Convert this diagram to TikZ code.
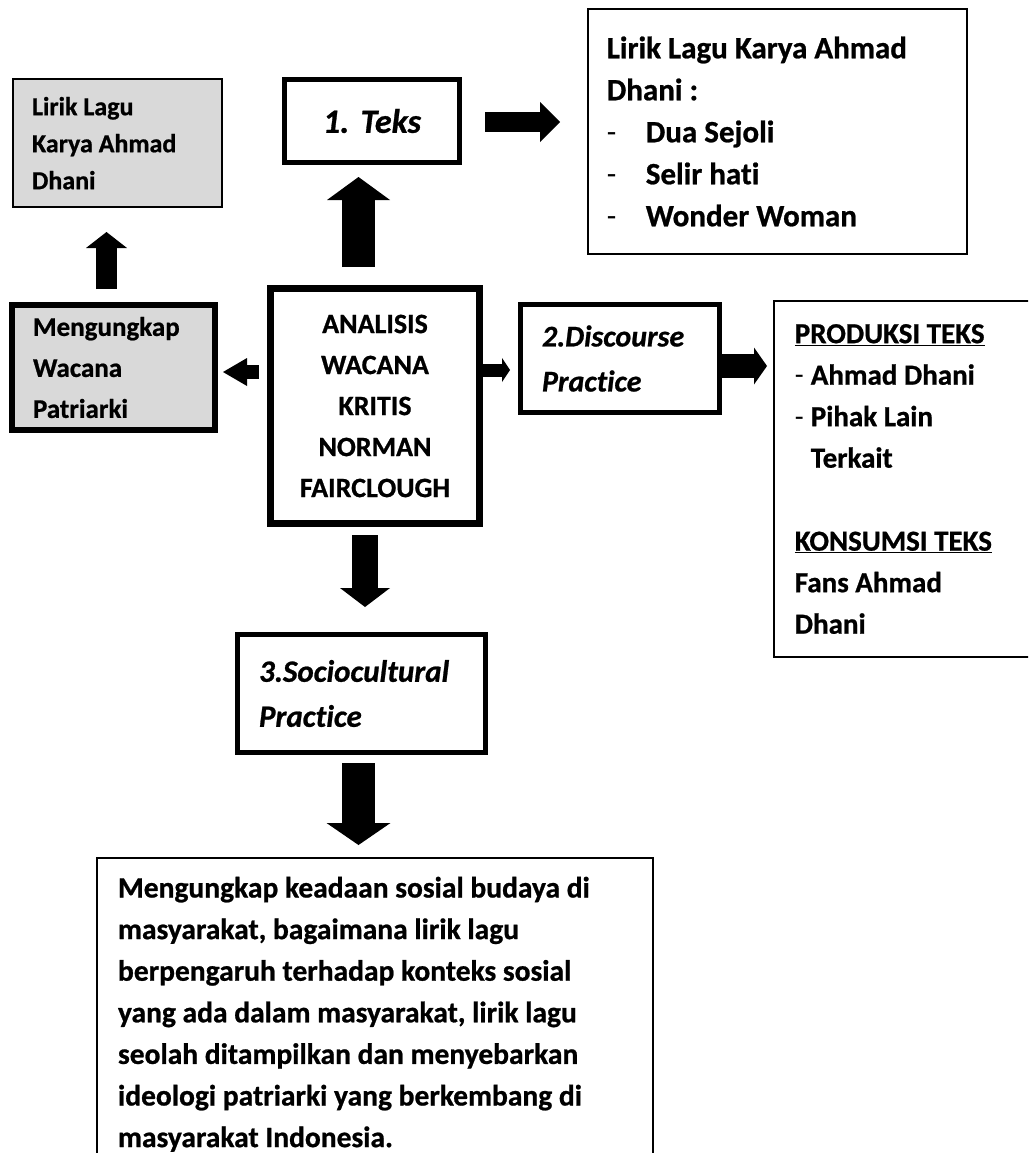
\documentclass[tikz,border=0pt]{standalone}
\usepackage{fontspec}
\setmainfont{Carlito}[Ligatures=NoCommon, BoldFeatures={FakeBold=0.8}, BoldItalicFeatures={FakeBold=0.8}]
\usepackage{tikz}
\usetikzlibrary{positioning}
\usetikzlibrary{arrows.meta}

\begin{document}
\frenchspacing
\begin{tikzpicture}[x=1pt, y=-1pt,
    tebal/.style={rectangle, draw, line width=5pt},
    tipis/.style={rectangle, draw, line width=1.6pt},
    abu/.style={fill=black!15},
    panah/.style n args={3}{line width=#1, -{Triangle[width=#2, length=#3, line width=0pt]}}
]
\useasboundingbox (0,0) rectangle (1028,1153);
\clip (0,0) rectangle (1028,1153);

% Components
\node[tebal, line width=7pt, minimum height=235pt, text width=193pt, inner xsep=8pt, align=center,
      font=\fontsize{28}{41}\selectfont\bfseries] (ana) at (375,406)
      {ANALISIS\\WACANA\\KRITIS\\NORMAN\\FAIRCLOUGH};
\node[tebal, minimum height=83pt, text width=159pt, inner xsep=8pt, align=center,
      font=\fontsize{34}{40}\selectfont\bfseries\itshape] (teks) [above=120pt of ana, xshift=-3pt] {1. Teks};
\node[tipis, minimum height=245pt, text width=341pt, inner xsep=19pt, align=flush left,
      font=\fontsize{31}{42}\selectfont\bfseries] (daftar) [right=125pt of teks, yshift=-10.5pt]
      {Lirik Lagu Karya Ahmad\\Dhani :\\
       \makebox[39pt][l]{\mdseries -}Dua Sejoli\\
       \makebox[39pt][l]{\mdseries -}Selir hati\\
       \makebox[39pt][l]{\mdseries -}Wonder Woman};
\node[tebal, minimum height=108pt, text width=156pt, inner xsep=21.5pt, align=flush left,
      font=\fontsize{30}{45}\selectfont\bfseries\itshape] (disc) [right=35pt of ana, yshift=47.5pt]
      {2.Discourse\\Practice};
\node[tipis, minimum height=356pt, text width=233pt, inner xsep=21pt, align=flush left,
      font=\fontsize{29}{41.5}\selectfont\bfseries] (prod) [right=51pt of disc, yshift=-120.5pt]
      {\underline{PRODUKSI TEKS}\\
       \makebox[16pt][l]{\mdseries -}Ahmad Dhani\\
       \makebox[16pt][l]{\mdseries -}Pihak Lain\\
       \hspace*{16pt}Terkait\\[41.5pt]
       \underline{KONSUMSI TEKS}\\
       Fans Ahmad\\Dhani};
\node[tebal, abu, line width=6pt, minimum height=125pt, text width=161pt, inner xsep=21pt, align=flush left,
      font=\fontsize{27}{41}\selectfont\bfseries] (ungkap) [left=49pt of ana, yshift=38.5pt]
      {Mengungkap\\Wacana\\Patriarki};
\node[tipis, abu, minimum height=128pt, text width=171pt, inner xsep=19pt, align=flush left,
      font=\fontsize{26}{37}\selectfont\bfseries] (lirik) [above=94pt of ungkap, xshift=4pt]
      {Lirik Lagu\\Karya Ahmad\\Dhani};
\node[tebal, minimum height=118pt, text width=205pt, inner xsep=21.5pt, align=flush left,
      font=\fontsize{31}{45}\selectfont\bfseries\itshape] (socio) [below=105pt of ana, xshift=-13.5pt]
      {3.Sociocultural\\Practice};
\node[tipis, text width=514pt, inner xsep=21pt, inner ysep=19pt, align=flush left,
      font=\fontsize{29.5}{41.6}\selectfont\bfseries] (akhir) [below=102pt of socio, xshift=13.5pt]
      {Mengungkap keadaan sosial budaya di\\
       masyarakat, bagaimana lirik lagu\\
       berpengaruh terhadap konteks sosial\\
       yang ada dalam masyarakat, lirik lagu\\
       seolah ditampilkan dan menyebarkan\\
       ideologi patriarki yang berkembang di\\
       masyarakat Indonesia.\\[60pt]};

% Flows
\draw[panah={33pt}{63pt}{23pt}, shorten <=18pt, shorten >=12pt]
    ([xshift=-16.5pt]ana.north) -- ([xshift=-16.5pt]ana.north |- teks.south);
\draw[panah={20pt}{40pt}{20pt}, shorten <=23pt, shorten >=27pt]
    ([yshift=-1pt]teks.east) -- ([yshift=-1pt]teks.east -| daftar.west);
\draw[panah={14pt}{28pt}{24pt}, shorten <=8pt, shorten >=5pt]
    ([yshift=34pt]ana.west) -- ([yshift=34pt]ana.west -| ungkap.east);
\draw[panah={21pt}{41pt}{16pt}, shorten <=13pt, shorten >=24pt]
    ([xshift=-7pt]ungkap.north) -- ([xshift=-7pt]ungkap.north |- lirik.south);
\draw[panah={13pt}{24pt}{8pt}, shorten >=8pt]
    ([yshift=36pt]ana.east) -- ([yshift=36pt]ana.east -| disc.west);
\draw[panah={24pt}{37pt}{13pt}, shorten >=6pt]
    ([yshift=-7.5pt]disc.east) -- ([yshift=-7.5pt]disc.east -| prod.west);
\draw[panah={26pt}{50pt}{19pt}, shorten <=8pt, shorten >=25pt]
    ([xshift=-10pt]ana.south) -- ([xshift=-10pt]ana.south |- socio.north);
\draw[panah={33pt}{64pt}{22pt}, shorten <=8pt, shorten >=12pt]
    ([xshift=-3pt]socio.south) -- ([xshift=-3pt]socio.south |- akhir.north);

\end{tikzpicture}
\end{document}
